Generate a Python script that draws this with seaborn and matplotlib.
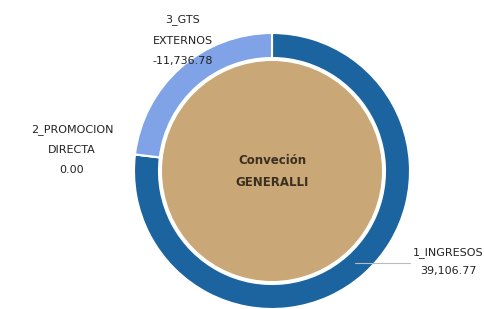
import matplotlib
matplotlib.use("Agg")
import matplotlib.pyplot as plt
import seaborn as sns
from matplotlib.patches import Circle

# Data
categories = ["1_INGRESOS", "2_PROMOCION DIRECTA", "3_GTS EXTERNOS"]
values = [39106.77, 0.00, -11736.78]
value_labels = ["39,106.77", "0.00", "-11,736.78"]
colors = ["#1B64A0", "#7A9FE4", "#7FA3E6"]
center_lines = ["Conveción", "GENERALLI"]

sns.set_theme(style="white")
plt.rcParams['font.family'] = ['DejaVu Sans']

fig = plt.figure(figsize=(4.84, 3.09), dpi=100)
ax = fig.add_axes([0, 0, 1, 1])

cx, cy, R = 272, 138, 138
sizes = [abs(v) for v in values]
wedges, _ = ax.pie(sizes, colors=colors, startangle=90, counterclock=False,
                   radius=R, center=(cx, cy), frame=True,
                   wedgeprops=dict(width=25, edgecolor="white", linewidth=1.5))
ax.set_xlim(0, 484)
ax.set_ylim(0, 309)
ax.set_aspect("equal")
ax.axis("off")

# center disk
ax.add_patch(Circle((cx, cy), 110, facecolor="#C9A777", edgecolor="none", zorder=3))
ax.text(cx, cy + 11, center_lines[0], ha="center", va="center", fontsize=8.5,
        fontweight="bold", color="#3B2F20", zorder=4)
ax.text(cx, cy - 12, center_lines[1], ha="center", va="center", fontsize=8.5,
        fontweight="bold", color="#3B2F20", zorder=4)

lab_kw = dict(ha="center", va="center", fontsize=8, color="#222222")
# 3_GTS EXTERNOS
ax.text(183, 309 - 20, "3_GTS", **lab_kw)
ax.text(183, 309 - 41, "EXTERNOS", **lab_kw)
ax.text(183, 309 - 61, value_labels[2], **lab_kw)
# 2_PROMOCION DIRECTA
ax.text(72, 309 - 130, "2_PROMOCION", **lab_kw)
ax.text(72, 309 - 150, "DIRECTA", **lab_kw)
ax.text(72, 309 - 170, value_labels[1], **lab_kw)
# 1_INGRESOS
ax.text(448, 309 - 253, categories[0], **lab_kw)
ax.text(448, 309 - 271, value_labels[0], **lab_kw)
ax.plot([355, 410], [309 - 263, 309 - 263], color="#BBBBBB", lw=0.8, zorder=5)

fig.savefig("out.png", dpi=100)
